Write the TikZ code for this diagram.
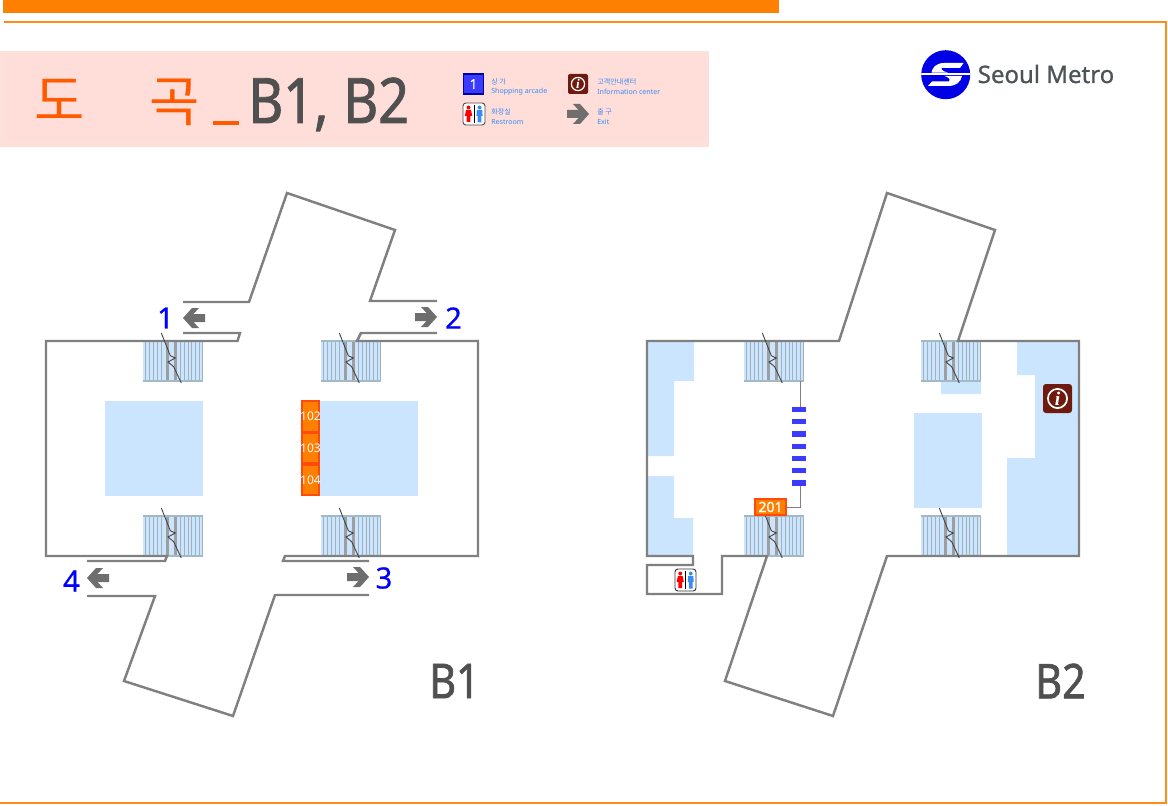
\documentclass[tikz,border=0pt]{standalone}
\usepackage{fontspec}
\setmainfont{Noto Sans}
\newfontfamily\cjk{Noto Sans CJK KR}
\newfontfamily\serifit{Liberation Serif}
\newfontfamily\heavy[FakeBold=1.4,FakeStretch=.86]{Noto Sans}
\newfontfamily\semi[FakeBold=.6]{Noto Sans}
\newfontfamily\logofont[FakeBold=1]{Noto Sans}
\definecolor{orbar}{HTML}{FF8000}
\definecolor{orline}{HTML}{FF8C1A}
\definecolor{panel}{HTML}{FFDDD8}
\definecolor{panelout}{HTML}{FEE0DA}
\definecolor{hangul}{HTML}{FF5A00}
\definecolor{wall}{HTML}{808080}
\definecolor{lblue}{HTML}{CCE5FF}
\definecolor{stairedge}{HTML}{A3BAC4}
\definecolor{stairthin}{HTML}{A0B0BC}
\definecolor{stairthick}{HTML}{9E9E9E}
\definecolor{shopfill}{HTML}{FF7F00}
\definecolor{shopedge}{HTML}{FF4A0A}
\definecolor{dashblue}{HTML}{3B3BFF}
\definecolor{infobrown}{HTML}{6E1A0E}
\definecolor{exitgray}{HTML}{6E6E6E}
\definecolor{labgray}{HTML}{505050}
\definecolor{legblue}{HTML}{3A8CF5}
\definecolor{logoblue}{HTML}{0000E6}
\definecolor{logotext}{HTML}{4D5356}
\newcommand{\stairsat}[2]{%
  \begin{scope}[shift={(#1,#2)}]
    \fill[lblue] (0,0) rectangle (60,40);
    \foreach \t in {2.7,6.7,10.7,14.3,18.3,37.7,41,45.3,48.7,52.7,56.7,59.3}
      \draw[stairthin,line width=.7pt] (\t,0) -- (\t,40);
    \foreach \t in {24.3,32.7}
      \draw[stairthick,line width=2.5pt] (\t,0) -- (\t,40);
    \draw[stairedge,line width=1pt] (0,0) -- (60,0) (0,40) -- (60,40);
  \end{scope}}
\newcommand{\breakat}[2]{%
  \draw[black!75,line width=.65pt,shift={(#1,#2)}] (18.3,-8) -- (27.3,14.7) -- (32.3,17) -- (25,21) -- (30.7,25.7) -- (38.3,42);}
\newcommand{\exitarrow}[3]{% tip x, cy, direction (+1 = right), size 22 wide
  \fill[exitgray,shift={(#1,#2)},xscale=#3] (0,0) -- (-9,-10) -- (-16,-10) -- (-10.5,-4) -- (-22,-4) -- (-22,4) -- (-10.5,4) -- (-16,10) -- (-9,10) -- cycle;}
\newcommand{\infoicon}[3]{% centre, size
  \pgfmathsetmacro{\icr}{.075*#3}\pgfmathsetmacro{\icl}{.045*#3}\pgfmathsetmacro{\icf}{.5*#3}%
  \fill[infobrown,rounded corners=\icr pt] (#1-#3/2,#2-#3/2) rectangle (#1+#3/2,#2+#3/2);
  \draw[white,line width=\icl pt] (#1,#2) circle (.33*#3);
  \node[white,inner sep=0,font=\serifit\itshape\bfseries\fontsize{\icf}{\icf}\selectfont] at (#1,#2) {i};}
\newcommand{\wcicon}[5]{% x0 y0 x1 y1 rule
  \pgfmathsetmacro{\wcx}{(#1+#3)/2}\pgfmathsetmacro{\wcw}{#3-#1}\pgfmathsetmacro{\wch}{#4-#2}
  \begin{scope}[shift={(\wcx,#2)},xscale=\wcw/22,yscale=\wch/22]
    \draw[#5,fill=white,line width=.7pt,rounded corners=2.2pt] (-11,0) rectangle (11,22);
    \draw[black,line width=.7pt] (0,2) -- (0,20);
    \fill[red] (-5.5,4.5) circle (2);
    \fill[red] (-8,7) -- (-3,7) -- (-1.8,13) -- (-3.6,13) -- (-3.6,19) -- (-7.4,19) -- (-7.4,13) -- (-9.2,13) -- cycle;
    \fill[legblue] (5.5,4.5) circle (2);
    \fill[legblue] (2.8,7) -- (8.2,7) -- (8.6,13) -- (7.4,13) -- (7.4,19.5) -- (3.6,19.5) -- (3.6,13) -- (2.4,13) -- cycle;
  \end{scope}}
\tikzset{
  walls/.style={wall,line width=1.85pt,line join=miter},
  roomfill/.style={fill=lblue,draw=none},
  shopbox/.style={rectangle,draw=shopedge,line width=1.4pt,fill=shopfill,text=white,inner sep=0,minimum width=13pt,minimum height=22.6pt,font=\fontsize{9}{9}\selectfont},
  exitnum/.style={text=blue,inner sep=0,font=\semi\fontsize{22}{22}\selectfont},
  levellabel/.style={text=labgray,inner sep=0,font=\heavy\fontsize{36}{36}\selectfont},
  legtext/.style={text=legblue,inner sep=0,anchor=west,font=\fontsize{5.3}{5.3}\selectfont},
  legkr/.style={text=legblue,inner sep=0,anchor=west,font=\cjk\fontsize{5.3}{5.3}\selectfont},
  kiosk/.style={rectangle,fill=dashblue,inner sep=0,minimum width=10.2pt,minimum height=3.9pt},
  connline/.style={black!50,line width=.7pt}
}
\begin{document}
\begin{tikzpicture}[x=.75pt,y=-.75pt]
\useasboundingbox (0,0) rectangle (1168,806);
% header bars and frame
\fill[orbar] (3,0) rectangle (779,13);
\draw[orline,line width=1.1pt] (4,22) -- (1166,22) -- (1166,803) -- (0,803);
% title panel
\fill[panelout] (0,51) rectangle (709,147);
\fill[panel] (6,56) rectangle (709,141);
\node[inner sep=0,text=hangul,font=\cjk\fontsize{41}{41}\selectfont] (tdo) at (60,100) {도};
\node[inner sep=0,text=hangul,font=\cjk\fontsize{41}{41}\selectfont] (tgok) at (175,102) {곡};
\fill[hangul] (213,121) rectangle (239,125);
\node[inner sep=0,anchor=base west,text=labgray,font=\heavy\fontsize{47}{47}\selectfont] (tlev) at (248,123) {B1,\hspace{11pt}B2};
% legend
\node[rectangle,fill=dashblue,draw=logoblue!70!black,line width=.8pt,minimum width=15pt,minimum height=15pt,inner sep=0,text=white,font=\semi\fontsize{10}{10}\selectfont] (leg1) at (473.5,84) {1};
\node[legkr] (lega) at (491,81.5) {상 가};
\node[legtext] (legb) at (491,91.5) {Shopping arcade};
\infoicon{578}{84}{20}
\node[legkr] (legc) at (597,81.5) {고객안내센터};
\node[legtext] (legd) at (597,91.5) {Information center};
\wcicon{463}{103}{485}{125}{black!70}
\node[legkr] (lege) at (491,112) {화장실};
\node[legtext] (legf) at (491,122) {Restroom};
\exitarrow{589}{114}{1}
\node[legkr] (legg) at (597,112) {출 구};
\node[legtext] (legh) at (597,122) {Exit};
% logo
\fill[logoblue] (945.7,74.7) circle (24.5);
\begin{scope}
  \clip (945.7,74.7) circle (24.5);
  \fill[white] (963.5,63) -- (944,63) .. controls (936,63) and (932,68) .. (931.5,72.6) -- (948,72.6) .. controls (946,72) and (941,71) .. (941.5,68) -- (960,68) -- cycle;
  \fill[white] (921,73.4) rectangle (971,74.7);
  \fill[white] (928,86) -- (948,86) .. controls (956,86) and (961,82) .. (962,75.8) -- (944,75.8) .. controls (948,77) and (951,79) .. (949,81.5) -- (932,81.5) -- cycle;
\end{scope}
\node[inner sep=0,anchor=base west,text=logotext,font=\logofont\fontsize{18}{18}\selectfont] (logot) at (977.5,83) {Seoul Metro};
% B1 rooms
\fill[roomfill] (105,401) rectangle (203,496);
\fill[roomfill] (320,401) rectangle (418,496);
\stairsat{143}{341}\stairsat{321}{341}\stairsat{143}{516}\stairsat{321}{516}
% B1 walls
\draw[walls] (183,333) -- (240,333) -- (237.5,341) -- (46,341) -- (46,556) -- (167,556) -- (165,561) -- (87,561);
\draw[walls] (87,596) -- (155,596) -- (124,681) -- (233,716) -- (275,595) -- (369,595);
\draw[walls] (369,561) -- (283,561) -- (285,556) -- (478,556) -- (478,341) -- (357,341) -- (361,333) -- (437,333);
\draw[walls] (437,301) -- (370,301) -- (395,230) -- (287,193) -- (249,302) -- (183,302);
\breakat{143}{341}\breakat{321}{341}\breakat{143}{516}\breakat{321}{516}
% shops
\node[shopbox,minimum height=22.9pt] (s102) at (310.5,416.5) {\makebox[0pt]{102}};
\node[shopbox,minimum height=22.9pt] (s103) at (310.5,448) {\makebox[0pt]{103}};
\node[shopbox,minimum height=22.9pt] (s104) at (310.5,480) {\makebox[0pt]{104}};
% exits
\exitarrow{183}{318}{-1}
\exitarrow{437}{317}{1}
\exitarrow{369}{577}{1}
\exitarrow{87}{578}{-1}
\node[exitnum] (e1) at (165.5,318) {1};
\node[exitnum] (e2) at (453.5,318) {2};
\node[exitnum] (e3) at (384,578) {3};
\node[exitnum] (e4) at (71.5,581) {4};
\node[levellabel] (lb1) at (454.5,681) {B1};
% B2 rooms
\fill[roomfill] (647,341) -- (694,341) -- (694,381) -- (674,381) -- (674,456) -- (647,456) -- cycle;
\fill[roomfill] (647,476) -- (674,476) -- (674,518) -- (693,518) -- (693,556) -- (647,556) -- cycle;
\fill[roomfill] (1017,341) -- (1079,341) -- (1079,556) -- (1007,556) -- (1007,458) -- (1035,458) -- (1035,375) -- (1017,375) -- cycle;
\fill[roomfill] (914,413) rectangle (982,508);
\fill[roomfill] (941,381) rectangle (981,394);
\stairsat{744}{341}\stairsat{921}{341}\stairsat{744}{516}\stairsat{921}{516}
% B2 walls
\draw[walls] (647,341) -- (839,341) -- (887,193) -- (995,230) -- (958,341) -- (1079,341) -- (1079,556) -- (887,556) -- (833,716) -- (725,681) -- (767,556) -- (722,556) -- (722,594) -- (647,594) -- (647,565) -- (693,565) -- (693,556) -- (647,556) -- cycle;
\breakat{744}{341}\breakat{921}{341}\breakat{744}{516}\breakat{921}{516}
% kiosks
\coordinate (stairfoot) at (800,381);
\foreach \n/\yy in {1/409.5,2/421.8,3/434,4/446.3,5/458.5,6/470.8,7/483}
  \node[kiosk] (k\n) at (799,\yy) {};
\node[shopbox,minimum width=23.5pt,minimum height=12.5pt,font=\semi\fontsize{10.5}{10.5}\selectfont] (s201) at (770.5,507) {201};
\draw[connline] (stairfoot) -- (k1.north -| stairfoot);
\draw[connline] (k7.south -| stairfoot) |- (s201.east);
% icons in plan
\infoicon{1057.5}{398.5}{29}
\wcicon{675}{569}{696}{591}{black!80}
\node[levellabel] (lb2) at (1060.5,681) {B2};
\end{tikzpicture}
\end{document}
